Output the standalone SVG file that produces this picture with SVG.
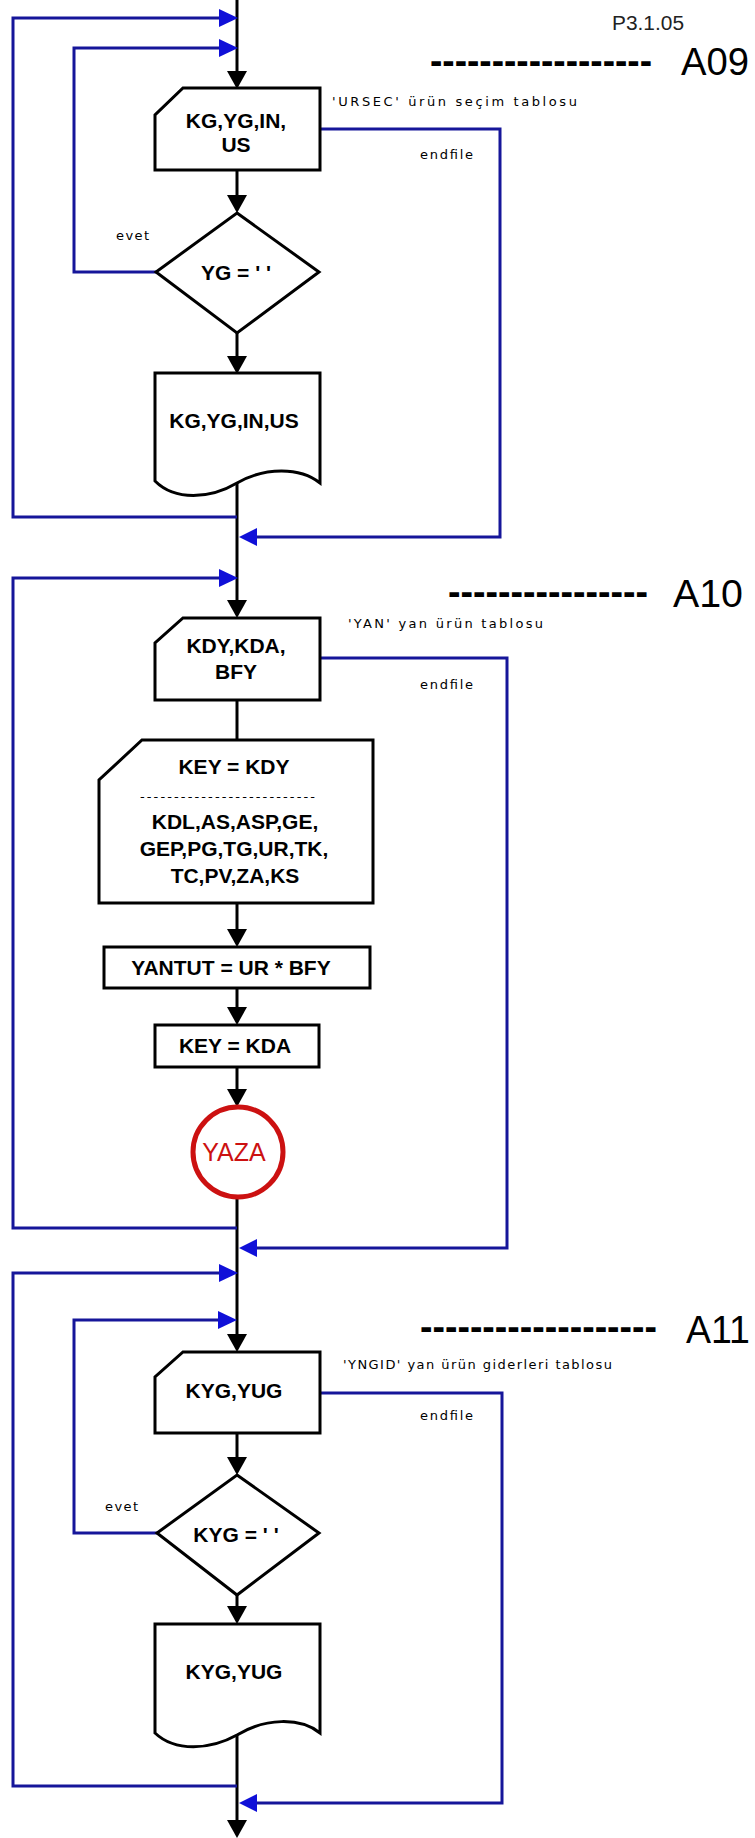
<svg xmlns="http://www.w3.org/2000/svg" width="755" height="1838" viewBox="0 0 755 1838">
<style>
.bg{fill:#ffffff}
.node{fill:#ffffff;stroke:#000000;stroke-width:3;stroke-linejoin:miter}
.flow{fill:none;stroke:#000000;stroke-width:3}
.loop{fill:none;stroke:#16169a;stroke-width:3;stroke-linejoin:miter}
.ah{fill:#000000}
.bh{fill:#1010d8}
.t{font-family:"Liberation Sans",Arial,sans-serif;font-weight:bold;font-size:21px;fill:#000000;text-anchor:middle}
.s{font-family:"DejaVu Sans","Liberation Sans",sans-serif;font-size:13px;fill:#000000}
.h{font-family:"Liberation Sans",Arial,sans-serif;font-size:38px;fill:#000000}
.d{font-family:"Liberation Sans",Arial,sans-serif;font-weight:bold;font-size:38px;fill:#000000}
.p{font-family:"Liberation Sans",Arial,sans-serif;font-size:20px;fill:#222222}
.y{font-family:"Liberation Sans",Arial,sans-serif;font-size:25px;fill:#cc1111;text-anchor:middle}
.c{fill:#ffffff;stroke:#cc1111;stroke-width:5}
</style>
<rect class="bg" x="0" y="0" width="755" height="1838"/>

<g id="headers">
<text class="p" x="612" y="30" textLength="72" lengthAdjust="spacingAndGlyphs">P3.1.05</text>
<text class="d" x="430" y="74" textLength="222" lengthAdjust="spacingAndGlyphs">------------------</text>
<text class="h" x="681" y="75" textLength="68" lengthAdjust="spacingAndGlyphs">A09</text>
<text class="d" x="448" y="605" textLength="200" lengthAdjust="spacingAndGlyphs">----------------</text>
<text class="h" x="673" y="607" textLength="70" lengthAdjust="spacingAndGlyphs">A10</text>
<text class="d" x="420" y="1340" textLength="237" lengthAdjust="spacingAndGlyphs">-------------------</text>
<text class="h" x="686" y="1343" textLength="64" lengthAdjust="spacingAndGlyphs">A11</text>
</g>

<g id="connectors">
<path class="flow" d="M237,0 V80"/>
<path class="flow" d="M237,170 V205"/>
<path class="flow" d="M237,333 V365"/>
<path class="flow" d="M237,483 V610"/>
<path class="flow" d="M237,700 V740"/>
<path class="flow" d="M237,903 V939"/>
<path class="flow" d="M237,988 V1017"/>
<path class="flow" d="M237,1067 V1099"/>
<path class="flow" d="M237,1197 V1344"/>
<path class="flow" d="M237,1433 V1467"/>
<path class="flow" d="M237,1595 V1616"/>
<path class="flow" d="M237,1735 V1828"/>
<polygon class="ah" points="227,71 247,71 237,89"/>
<polygon class="ah" points="227,195 247,195 237,213"/>
<polygon class="ah" points="227,356 247,356 237,374"/>
<polygon class="ah" points="227,600 247,600 237,618"/>
<polygon class="ah" points="227,929 247,929 237,947"/>
<polygon class="ah" points="227,1007 247,1007 237,1025"/>
<polygon class="ah" points="227,1089 247,1089 237,1107"/>
<polygon class="ah" points="227,1334 247,1334 237,1352"/>
<polygon class="ah" points="227,1457 247,1457 237,1475"/>
<polygon class="ah" points="227,1606 247,1606 237,1624"/>
<polygon class="ah" points="227,1820 247,1820 237,1838"/>

<path class="loop" d="M237,517 H13 V18 H222"/>
<polygon class="bh" points="219,9 219,27 238,18"/>
<path class="loop" d="M156,272 H74 V48 H222"/>
<polygon class="bh" points="219,39 219,57 238,48"/>
<path class="loop" d="M320,129 H500 V537 H254"/>
<polygon class="bh" points="257,528 257,546 239,537"/>

<path class="loop" d="M237,1228 H13 V578 H222"/>
<polygon class="bh" points="219,569 219,587 238,578"/>
<path class="loop" d="M320,658 H507 V1248 H254"/>
<polygon class="bh" points="257,1239 257,1257 239,1248"/>

<path class="loop" d="M237,1786 H13 V1273 H222"/>
<polygon class="bh" points="219,1264 219,1282 238,1273"/>
<path class="loop" d="M157,1533 H74 V1320 H222"/>
<polygon class="bh" points="218,1311 218,1329 237,1320"/>
<path class="loop" d="M320,1393 H502 V1803 H254"/>
<polygon class="bh" points="257,1794 257,1812 239,1803"/>
</g>

<g id="labels">
<text class="s" x="332" y="106" textLength="245" lengthAdjust="spacing">'URSEC' ürün seçim  tablosu</text>
<text class="s" x="420" y="159" textLength="53" lengthAdjust="spacing">endfile</text>
<text class="s" x="116" y="240" textLength="33" lengthAdjust="spacing">evet</text>
<text class="s" x="348" y="628" textLength="195" lengthAdjust="spacing">'YAN' yan  ürün   tablosu</text>
<text class="s" x="420" y="689" textLength="53" lengthAdjust="spacing">endfile</text>
<text class="s" x="343" y="1369" textLength="269" lengthAdjust="spacing">'YNGID' yan ürün giderleri tablosu</text>
<text class="s" x="420" y="1420" textLength="53" lengthAdjust="spacing">endfile</text>
<text class="s" x="105" y="1511" textLength="33" lengthAdjust="spacing">evet</text>
</g>

<g id="n_read_urs">
<path class="node" d="M183,88 H320 V170 H155 V115 Z"/>
<text class="t" x="236" y="128">KG,YG,IN,</text>
<text class="t" x="236" y="152">US</text>
</g>

<g id="n_dec_yg">
<path class="node" d="M237,213 L319,272 L237,333 L156,272 Z"/>
<text class="t" x="236" y="280">YG = ' '</text>
</g>

<g id="n_doc_urs">
<path class="node" d="M155,373 H320 V483 C300,467 265,467 237,483 C210,499 175,501 155,481 Z"/>
<text class="t" x="234" y="428">KG,YG,IN,US</text>
</g>

<g id="n_read_yan">
<path class="node" d="M183,618 H320 V700 H155 V643 Z"/>
<text class="t" x="236" y="653">KDY,KDA,</text>
<text class="t" x="236" y="679">BFY</text>
</g>

<g id="n_read_key">
<path class="node" d="M142,740 H373 V903 H99 V780 Z"/>
<text class="t" x="234" y="774">KEY = KDY</text>
<text class="s" x="140" y="801" textLength="175" lengthAdjust="spacing">--------------------------</text>
<text class="t" x="235" y="829">KDL,AS,ASP,GE,</text>
<text class="t" x="234" y="856">GEP,PG,TG,UR,TK,</text>
<text class="t" x="235" y="883">TC,PV,ZA,KS</text>
</g>

<g id="n_yantut">
<rect class="node" x="104" y="947" width="266" height="41"/>
<text class="t" x="231" y="975">YANTUT = UR * BFY</text>
</g>

<g id="n_key_kda">
<rect class="node" x="155" y="1025" width="164" height="42"/>
<text class="t" x="235" y="1053">KEY = KDA</text>
</g>

<g id="n_yaza">
<circle class="c" cx="238" cy="1152" r="45"/>
<text class="y" x="234" y="1161">YAZA</text>
</g>

<g id="n_read_yngid">
<path class="node" d="M183,1352 H320 V1433 H155 V1377 Z"/>
<text class="t" x="234" y="1398">KYG,YUG</text>
</g>

<g id="n_dec_kyg">
<path class="node" d="M237,1475 L319,1533 L237,1595 L157,1533 Z"/>
<text class="t" x="236" y="1542">KYG = ' '</text>
</g>

<g id="n_doc_yngid">
<path class="node" d="M155,1624 H320 V1733 C300,1717 265,1718 237,1735 C210,1750 175,1752 155,1733 Z"/>
<text class="t" x="234" y="1679">KYG,YUG</text>
</g>
</svg>
